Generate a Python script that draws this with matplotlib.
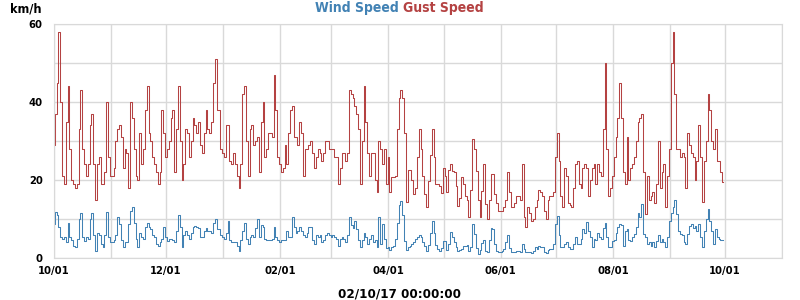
import numpy as np
import pandas as pd
import matplotlib
matplotlib.use('Agg')
import matplotlib.pyplot as plt
import matplotlib.dates as mdates

# daily values, 01 Oct 2016 -> 30 Sep 2017
gust_speed = [
    29, 37, 45, 58, 40, 21, 19, 35, 44, 28, 20, 19, 18, 19, 33, 43, 28, 24, 21, 24,
    34, 37, 24, 15, 24, 26, 19, 19, 22, 40, 26, 21, 21, 23, 30, 33, 34, 31, 23, 28,
    27, 18, 40, 36, 28, 21, 20, 32, 24, 28, 38, 44, 32, 30, 26, 24, 22, 19, 22, 38,
    32,
    26, 28, 30, 36, 38, 22, 33, 44, 30, 20, 24, 33, 32, 26, 30, 36, 34, 32, 35, 29,
    27, 32, 38, 33, 32, 35, 45, 51, 38, 38, 28, 27, 26, 34, 34, 25, 24, 27, 24, 21,
    18, 24, 42, 44, 30, 21, 33, 34, 29, 30, 31, 22, 35, 40, 26, 28, 32,
    32, 31, 47, 38, 26, 24, 22, 23, 29, 24, 32, 38, 39, 31, 31, 29, 35, 32, 21, 28,
    28, 29, 30, 27, 23, 26, 28, 27, 25, 27, 30, 30, 28, 28, 28, 26, 26, 19, 23, 27,
    27, 25, 27, 43, 42, 41, 39, 37, 33, 19, 30, 44, 35, 27, 21, 27, 27, 20, 17, 30,
    28, 24, 28,
    19, 26, 17, 20.7, 20.7, 21, 33, 41, 43, 41, 32, 14.3, 22.6, 22.6, 20, 16.4, 18, 25.8, 33, 28,
    21, 16.4, 13, 19.8, 26.5, 33, 26, 19, 19, 18.5, 16.6, 23, 21, 17, 22.6, 24, 22.4, 22, 18.5, 13.4,
    15.4, 20.7, 19, 16, 15, 10.5, 17.5, 30.5, 28, 22.4, 15, 10.4, 17.3, 24, 13.8, 10, 15, 21.5, 21.5, 16.4,
    14, 12, 12, 12, 13, 15, 22, 17, 13, 13, 14, 16, 16, 15, 24, 10.5, 8, 13, 11.5, 9.5,
    10, 13, 15, 17.5, 17, 16, 12, 10, 15, 16, 16, 17, 26, 32, 25, 16, 13, 23, 21, 14,
    13.5, 13, 18, 24, 25, 19, 18, 23, 24, 23, 16, 20, 23, 24, 19, 24, 22, 21, 33,
    50, 28, 16, 18, 21, 26, 31, 36, 45, 36, 22, 19, 31, 20, 23, 24, 26, 30, 35, 36,
    37, 22, 11.3, 21, 15, 16, 17, 14, 19, 30, 18, 22, 24, 13, 21, 28, 50, 58, 42, 28,
    28, 26, 27, 26, 18, 32, 29, 27, 26, 20, 25, 34, 26, 14.3, 25, 30, 42, 38, 30, 28,
    33, 25, 25, 22, 19.4,
]

wind_speed = [
    8.7, 11.7, 11, 8, 5.3, 4.9, 5.3, 4, 9, 5.5, 4.5, 3, 2.7, 5, 10, 11.5, 5.5, 4.4, 5.3, 5,
    10, 11.5, 6, 1.9, 6.4, 6, 3.6, 2.9, 6, 11.7, 5.3, 4, 4, 4.5, 6, 10.5, 8.6, 4.5, 2.7, 4,
    4, 8.6, 12, 13, 9, 5, 2.7, 6.5, 5.3, 4.9, 8, 9, 8, 7.5, 6, 5.3, 3.6, 3.2, 4, 4.9,
    8,
    5.3, 4.4, 5, 5, 4.5, 4, 7, 11, 8, 2.9, 6, 7, 6, 5, 6.5, 8, 8.2, 8, 7.7, 5.3,
    5.5, 7, 7.7, 7, 7, 6.5, 9, 10, 7.5, 7.5, 6, 5.3, 5, 6.5, 9.5, 4.6, 4, 4, 4.2, 3.2,
    1.9, 4.5, 7, 9, 5, 3.5, 5.3, 6, 5.3, 7.8, 10, 5.5, 8.5, 8, 4.9, 4.5, 4.5,
    4.7, 5, 8, 5.3, 4.6, 4, 4.5, 4.7, 4.5, 7, 5.3, 5.3, 10.4, 8, 6.5, 7, 8, 7, 6, 5.3,
    6.5, 8, 8, 4.5, 3.6, 6, 5.5, 6, 4, 4.5, 5.8, 6.5, 5.8, 5.3, 6, 5.3, 4.9, 3, 4.9, 5.3,
    4.9, 4, 6, 10.4, 8.5, 7.7, 9.5, 7.4, 4.5, 2.7, 4.6, 6.3, 5.3, 3.6, 4.9, 5.8, 4, 4.5, 2.7, 10.4,
    3.6, 8.6, 5,
    2.5, 2.7, 2.1, 2.7, 3.1, 5, 9, 13.5, 14.5, 11, 4.4, 2, 2.7, 3.1, 3.6, 4, 4.9, 5.3, 6, 5.4,
    4, 3.1, 1.9, 3.4, 6.5, 9.4, 6.5, 3.4, 2.3, 1.9, 2.5, 4.4, 4.4, 2, 3.6, 6.6, 5.3, 4, 2.7, 1.9,
    2, 2.3, 3, 3, 3.4, 1.8, 2.9, 8.7, 6.2, 2.5, 1.1, 2, 3.8, 4.5, 1.9, 1.6, 4.5, 7.8, 7.5, 3.6,
    1.8, 1.5, 1.5, 1.7, 2.2, 4, 6, 2.5, 1.5, 1.6, 1.6, 1.8, 1.8, 1.6, 3.5, 2.3, 1.5, 1.6, 1.6, 1.4,
    1.7, 2.7, 2.2, 3, 2.7, 2.7, 1.6, 1.4, 2, 2.4, 2.3, 3.6, 8.6, 10.8, 6, 2.7, 2.7, 3.5, 4, 2.7,
    2.3, 2.2, 3.5, 5.5, 3.6, 3.6, 5, 7.5, 6.5, 9.3, 7, 5.3, 2.7, 5, 4.5, 6.5, 5.3, 4.9, 7.8,
    9, 5.3, 2.7, 2.7, 4.4, 4.6, 6.5, 8, 8.8, 8.5, 3.2, 7, 7.5, 4.6, 4.4, 5.3, 6.2, 8, 11.5, 10.5,
    13.8, 6.2, 5.3, 3.6, 4, 3, 4, 2.7, 4.4, 6, 4, 5, 4, 2.7, 5.3, 9.5, 11.5, 13, 15, 11.3,
    7, 6.2, 6, 4, 3.6, 6.2, 8.3, 8.6, 7.7, 8.3, 6.8, 8.6, 5.3, 2.7, 7, 10, 12.5, 9.5, 7, 3.6,
    7.5, 5.3, 4.9, 4.5, 4.5,
]

start_date = '2016-10-01'
x_start = '2016-10-01'
x_end = '2017-11-01'
y_ticks = [0, 20, 40, 60]
title_wind = 'Wind Speed'
title_gust = 'Gust Speed'
unit_label = 'km/h'
time_label = '02/10/17 00:00:00'

wind_color = '#4282b4'
gust_color = '#b44242'
grid_color = '#d9d9d9'

days = pd.date_range(start_date, periods=len(gust_speed), freq='D')

font = dict(family='DejaVu Sans', stretch='condensed', weight='bold')

fig = plt.figure(figsize=(8, 3), dpi=100)
ax = fig.add_axes([53.8 / 800, 42 / 300, (782 - 53.8) / 800, 234 / 300])

# weewx style stepped lines
ax.plot(days, gust_speed, color=gust_color, lw=0.75, drawstyle='steps-mid')
ax.plot(days, wind_speed, color=wind_color, lw=0.75, drawstyle='steps-mid')

ax.set_xlim(pd.Timestamp(x_start), pd.Timestamp(x_end))
ax.set_ylim(0, 60)

ax.xaxis.set_major_locator(mdates.MonthLocator(bymonth=[2, 4, 6, 8, 10, 12]))
ax.xaxis.set_major_formatter(mdates.DateFormatter('%m/%d'))
ax.xaxis.set_minor_locator(mdates.MonthLocator())
ax.set_yticks(y_ticks)
ax.set_yticks(np.arange(0, 61, 10), minor=True)

ax.grid(True, which='both', color=grid_color, lw=1)
ax.set_axisbelow(True)
for s in ax.spines.values():
    s.set_color(grid_color)
ax.tick_params(which='both', length=0)
ax.tick_params(axis='x', pad=6)
ax.tick_params(axis='y', pad=8)
for lab in ax.get_xticklabels() + ax.get_yticklabels():
    lab.set_fontfamily(font['family'])
    lab.set_fontstretch(font['stretch'])
    lab.set_fontweight('bold')
    lab.set_fontsize(8)

fig.text(399 / 800, 1 - 8 / 300, title_wind, color=wind_color, ha='right', va='center', fontsize=10, **font)
fig.text(403 / 800, 1 - 8 / 300, title_gust, color=gust_color, ha='left', va='center', fontsize=10, **font)
fig.text(10 / 800, 1 - 9 / 300, unit_label, color='black', ha='left', va='center', fontsize=9, **font)
fig.text(0.5, 1 - 294 / 300, time_label, color='black', ha='center', va='center', fontsize=9.5, **font)

fig.savefig('out.png', dpi=100)
